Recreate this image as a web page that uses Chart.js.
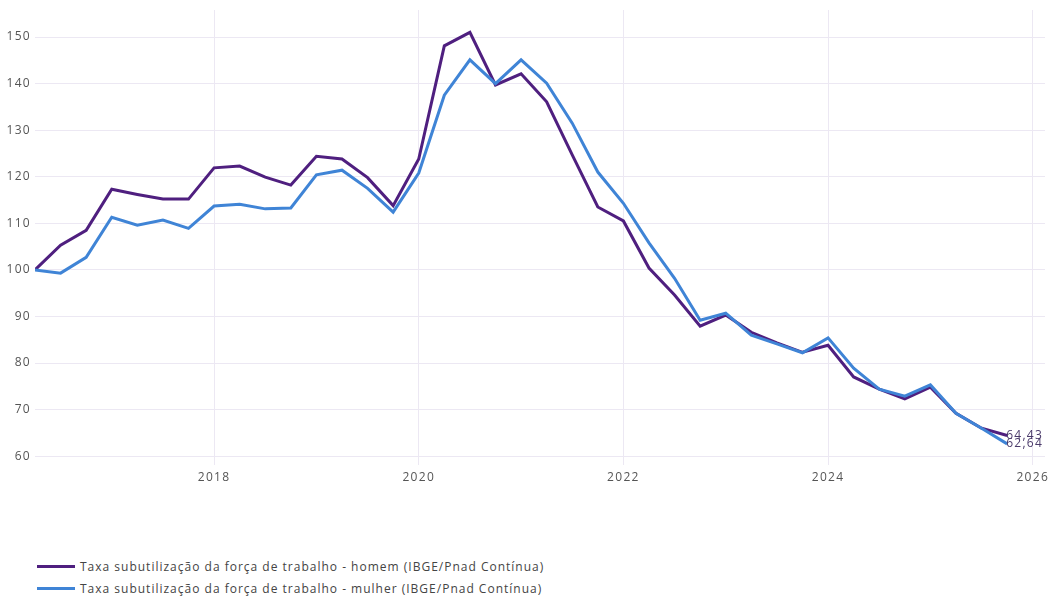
<!DOCTYPE html>
<html>
<head>
<meta charset="utf-8">
<script src="https://cdn.jsdelivr.net/npm/chart.js@4"></script>
<style>
  html, body { margin:0; padding:0; background:#fff; }
  body { width:1049px; height:596px; overflow:hidden; font-family:"Open Sans", sans-serif; }
  #wrap { position:absolute; left:0; top:0; width:1049px; height:500px; }
  #legend { position:absolute; left:37px; top:555px; font-size:12px; color:#444; letter-spacing:1px; }
  .item { display:flex; align-items:center; height:22.5px; }
  .swatch { width:38px; height:3px; margin-right:5px; }
</style>
</head>
<body>
<div id="wrap"><canvas id="c" width="1049" height="500"></canvas></div>
<div id="legend"></div>
<script>
const periodos = ["2016-04","2016-07","2016-10","2017-01","2017-04","2017-07","2017-10","2018-01","2018-04","2018-07","2018-10","2019-01","2019-04","2019-07","2019-10","2020-01","2020-04","2020-07","2020-10","2021-01","2021-04","2021-07","2021-10","2022-01","2022-04","2022-07","2022-10","2023-01","2023-04","2023-07","2023-10","2024-01","2024-04","2024-07","2024-10","2025-01","2025-04","2025-07","2025-10"];
const homem = [100,105.3,108.5,117.3,116.2,115.2,115.2,121.9,122.3,119.9,118.2,124.4,123.8,119.8,113.8,123.8,148.1,151.0,139.7,142.1,136.1,124.7,113.5,110.5,100.4,94.6,87.9,90.3,86.6,84.3,82.3,83.8,77.0,74.4,72.3,74.8,69.2,66.0,64.43];
const mulher = [100,99.3,102.7,111.3,109.6,110.7,108.9,113.7,114.1,113.1,113.3,120.4,121.4,117.5,112.4,120.8,137.5,145.1,140.0,145.1,140.1,131.5,121.0,114.3,105.8,98.2,89.2,90.7,86.0,84.1,82.2,85.4,78.9,74.4,72.9,75.3,69.2,66.0,62.64];
const rotulos = ["Taxa subutilização da força de trabalho - homem (IBGE/Pnad Contínua)","Taxa subutilização da força de trabalho - mulher (IBGE/Pnad Contínua)"];
const cores = ["#4f1f7f","#3f84d6"];
const yTicks = [60,70,80,90,100,110,120,130,140,150];
const xTicks = [2018,2020,2022,2024,2026];

function toYear(s){ const [y,m]=s.split("-").map(Number); return y+(m-1)/12; }
const xs = periodos.map(toYear);
const pts = arr => arr.map((v,i)=>({x:xs[i], y:v}));

const spacing = {
  id:'spacing',
  beforeInit(chart){ chart.ctx.letterSpacing = '1.3px'; },
  beforeUpdate(chart){ chart.ctx.letterSpacing = '1.3px'; },
  beforeDraw(chart){ chart.ctx.letterSpacing = '1.3px'; }
};

const endLabels = {
  id:'endLabels',
  afterDatasetsDraw(chart){
    const ctx = chart.ctx;
    ctx.save();
    ctx.letterSpacing = '1.3px';
    ctx.font = '12px "Open Sans"';
    ctx.textAlign='left'; ctx.textBaseline='middle';
    chart.data.datasets.forEach((ds,i)=>{
      const last = ds.data[ds.data.length-1];
      const px = chart.scales.x.getPixelForValue(last.x);
      const py = chart.scales.y.getPixelForValue(last.y);
      ctx.fillStyle = '#4a3a6a';
      ctx.fillText(last.y.toFixed(2).replace('.',','), px-1, py);
    });
    ctx.restore();
  }
};

new Chart(document.getElementById('c'), {
  type:'line',
  data:{ datasets:[
    {label:rotulos[0], data:pts(homem), borderColor:cores[0], borderWidth:3, pointRadius:0, tension:0, order:2},
    {label:rotulos[1], data:pts(mulher), borderColor:cores[1], borderWidth:3, pointRadius:0, tension:0, order:1}
  ]},
  options:{
    responsive:false, animation:false,
    layout:{padding:{top:10,right:4,left:0,bottom:0}},
    plugins:{legend:{display:false}, tooltip:{enabled:false}},
    scales:{
      x:{type:'linear', min:2016.25, max:2026.12,
        afterBuildTicks(s){ s.ticks = xTicks.map(v=>({value:v})); },
        afterFit(s){ s.height = 35; s.paddingLeft = 0; s.paddingRight = 0; },
        grid:{color:'#ece8f3', drawTicks:false, lineWidth:1},
        border:{display:false},
        ticks:{padding:5, color:'#555', font:{family:'"Open Sans"', size:12}, maxRotation:0,
          callback:v=>String(v)}
      },
      y:{min:58.1, max:155.8,
        afterBuildTicks(s){ s.ticks = yTicks.map(v=>({value:v})); },
        afterFit(s){ s.width = 35; s.paddingTop = 0; s.paddingBottom = 0; },
        grid:{color:'#ece8f3', drawTicks:false, lineWidth:1},
        border:{display:false},
        ticks:{padding:4, color:'#555', font:{family:'"Open Sans"', size:12}, callback:v=>String(v)}
      }
    }
  },
  plugins:[spacing, endLabels]
});

const leg = document.getElementById('legend');
rotulos.forEach((t,i)=>{
  const d=document.createElement('div'); d.className='item';
  const s=document.createElement('span'); s.className='swatch'; s.style.background=cores[i];
  const l=document.createElement('span'); l.textContent=t;
  d.appendChild(s); d.appendChild(l); leg.appendChild(d);
});
</script>
</body>
</html>
